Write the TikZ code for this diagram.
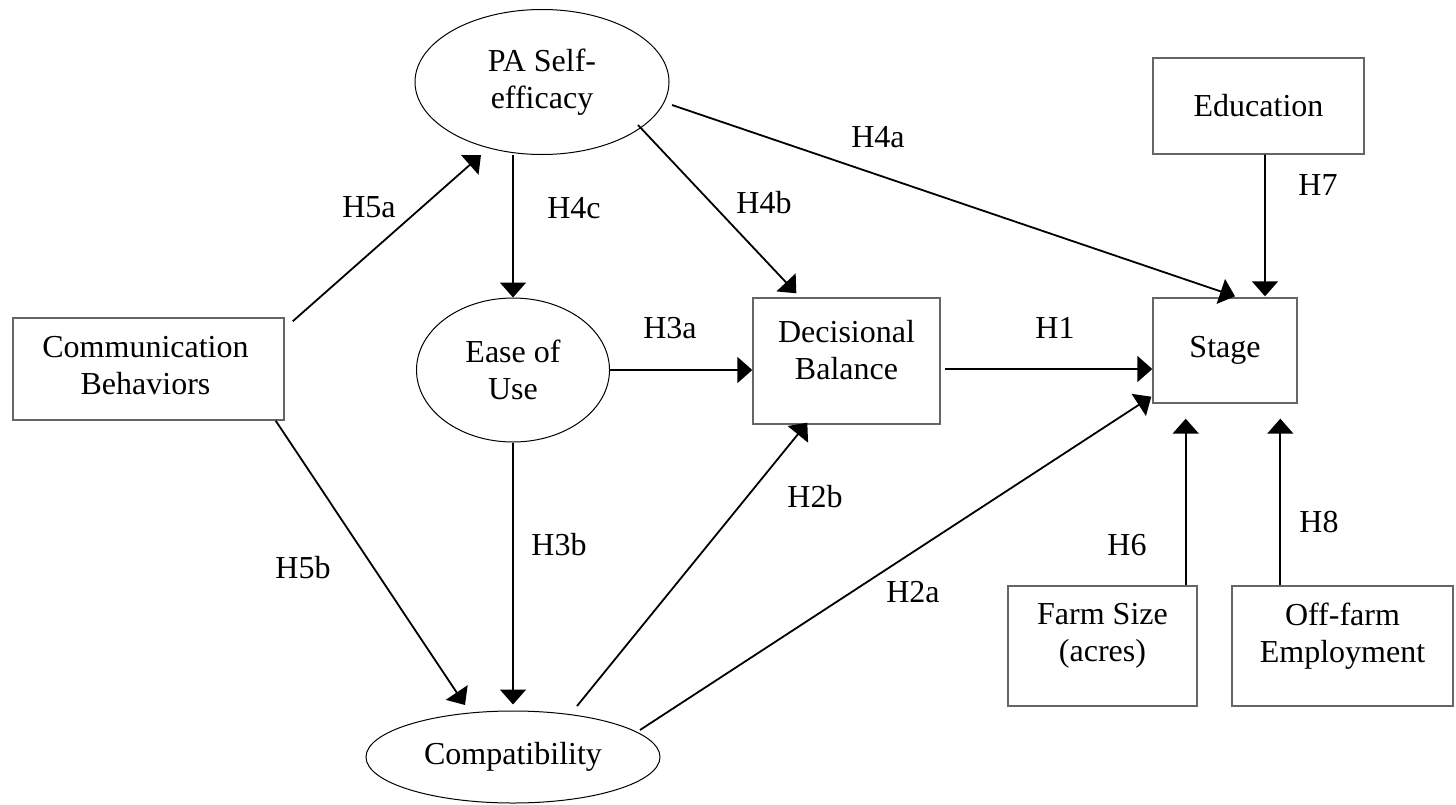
\documentclass[tikz,border=0pt]{standalone}
\usepackage{fontspec}
\setmainfont{Liberation Serif}
\usetikzlibrary{shapes.geometric,arrows.meta,calc}
\begin{document}
\begin{tikzpicture}[x=1bp,y=-1bp,
  every node/.style={font=\fontsize{32bp}{37bp}\selectfont},
  box/.style={draw=black!60,line width=1.4bp,rectangle,inner sep=0pt},
  oval/.style={draw=black,line width=1bp,ellipse,inner sep=0pt,align=center},
  txt/.style={align=center,inner sep=0pt},
  hyp/.style={anchor=base,inner sep=0pt},
  arr/.style={line width=1.8bp,-{Triangle[length=15bp,width=26bp]}},
  ]
\useasboundingbox (0,0) rectangle (1456,804);

% constructs (ellipses)
\node[oval,minimum width=254bp,minimum height=145bp] (pa) at (542,82) {PA Self-\\efficacy};
\node[oval,minimum width=193bp,minimum height=144bp] (eou) at (513,370) {Ease of\\Use};
\node[oval,minimum width=294bp,minimum height=92bp] (comp) at (513,757) {Compatibility};

% observed variables (boxes)
\node[box,minimum width=271bp,minimum height=102bp] (cb) at (148.5,369) {};
\node[txt] (cbt) at ($(cb)+(-3,-3)$) {Communication\\Behaviors};
\node[box,minimum width=187bp,minimum height=126bp] (db) at (846.5,361) {};
\node[txt] (dbt) at ($(db)+(0,-11)$) {Decisional\\Balance};
\node[box,minimum width=144bp,minimum height=105bp] (st) at (1225,350.5) {};
\node[txt] (stt) at (st) {Stage};
\node[box,minimum width=211bp,minimum height=96bp] (ed) at (1258.5,106) {};
\node[txt] (edt) at (ed) {Education};
\node[box,minimum width=189bp,minimum height=120bp] (fs) at (1102.5,646) {};
\node[txt] (fst) at ($(fs)+(0,-10)$) {Farm Size\\(acres)};
\node[box,minimum width=221bp,minimum height=120bp] (of) at (1342.5,646) {};
\node[txt] (oft) at ($(of)+(0,-10)$) {Off-farm\\Employment};

% hypothesised paths
\draw[arr] ($(cb.north east)+(8,4)$) -- ($(pa.center)+(-61,73)$);
\draw[arr] (pa.south -| eou.north) -- (eou.north);
\draw[arr] ($(pa.center)+(96,43)$) -- ($(db.north west)+(44,-4)$);
\draw[arr] ($(pa.center)+(130,23)$) -- ($(st.north)+(10,-1)$);
\draw[arr] ($(ed.south)+(6.5,0)$) -- ($(st.north)+(40,-1)$);
\draw[arr] (eou.east) -- (eou.east -| db.west);
\draw[arr] ($(db.east)+(4,8)$) coordinate (h1s) -- (h1s -| st.west);
\draw[arr] ($(comp.center)+(127,-27)$) -- ($(st.south west)+(-1,-7)$);
\draw[arr] ($(comp.center)+(64,-51)$) -- ($(db.south west)+(55,-2)$);
\draw[arr] (eou.south) -- ($(comp.north)+(0,-6)$);
\draw[arr] ($(cb.south east)+(-9,0)$) -- ($(comp.center)+(-48,-52)$);
\draw[arr] ($(fs.north east)+(-12,0)$) coordinate (h6s) -- ($(h6s |- st.south)+(0,15)$);
\draw[arr] ($(of.north west)+(49,0)$) coordinate (h8s) -- ($(h8s |- st.south)+(0,15)$);

% path labels
\node[hyp] (l5a) at (369,217) {H5a};
\node[hyp] (l4c) at (574,218) {H4c};
\node[hyp] (l4b) at (764,213) {H4b};
\node[hyp] (l4a) at (878,147) {H4a};
\node[hyp] (l7)  at (1318,195) {H7};
\node[hyp] (l3a) at (670,338) {H3a};
\node[hyp] (l1)  at (1055,338) {H1};
\node[hyp] (l2b) at (815,507) {H2b};
\node[hyp] (l2a) at (913,602) {H2a};
\node[hyp] (l3b) at (559,555) {H3b};
\node[hyp] (l5b) at (303,578) {H5b};
\node[hyp] (l6)  at (1127,555) {H6};
\node[hyp] (l8)  at (1319,532) {H8};
\end{tikzpicture}
\end{document}
